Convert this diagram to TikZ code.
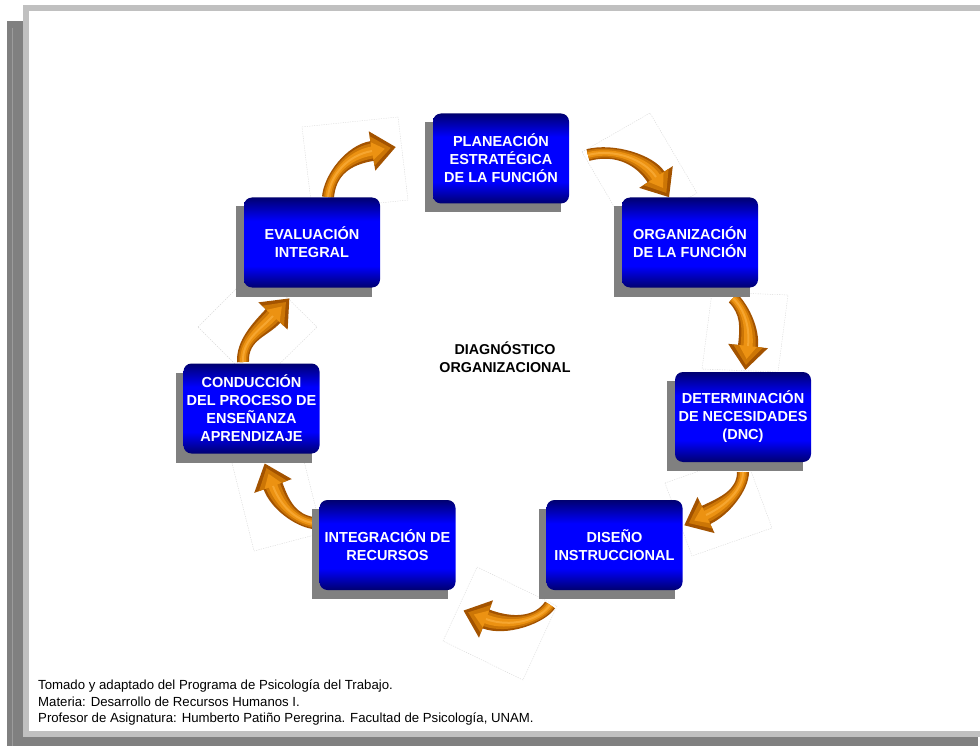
\documentclass[tikz,border=0pt]{standalone}
\usepackage{fontspec}
\setmainfont{Liberation Sans}
\usetikzlibrary{calc}

\definecolor{framegray}{HTML}{C0C0C0}
\definecolor{shadowgray}{HTML}{808080}
\definecolor{seamgray}{HTML}{9C9C9C}
\definecolor{boxnavy}{HTML}{000070}
\definecolor{boxblue}{HTML}{0000FF}
\definecolor{arrowdark}{HTML}{A35300}
\definecolor{arrowmid}{HTML}{CC7606}
\definecolor{arrowbright}{HTML}{EC9212}
\definecolor{arrowglow}{HTML}{F6A630}
\definecolor{papergray}{HTML}{D8D8D8}

% navy -> blue -> navy vertical fill of the stage boxes
\pgfdeclareverticalshading{stageshade}{100bp}{color(0bp)=(boxnavy); color(25bp)=(boxnavy);
  color(37bp)=(boxblue); color(62bp)=(boxblue); color(75bp)=(boxnavy); color(100bp)=(boxnavy)}

\tikzset{
  stage/.style={shape=rectangle, rounded corners=8pt, minimum width=136pt, minimum height=90pt,
    shading=stageshade, text=white, align=center, inner sep=0pt,
    font=\bfseries\fontsize{14.5}{18}\selectfont},
  centertext/.style={align=center, font=\bfseries\fontsize{14.3}{18.5}\selectfont},
  credits/.style={anchor=west, align=left, inner sep=0pt, font=\fontsize{13.2}{16.5}\selectfont},
  paper/.style={draw=papergray, fill=white, line width=0.4pt, dash pattern=on 1.2pt off 1.2pt},
}

% filled tapered curved arrow: style, start, control 1, control 2, head base,
% tail half width, base half width, head half width, head length
\newcommand\curvedarrow[9]{%
  \fill[#1] ($(#2)!#6!90:(#3)$) .. controls ($(#3)!#6!-90:(#2)$) and ($(#4)!#7!90:(#5)$) .. ($(#5)!#7!-90:(#4)$)
    -- ($(#5)!#8!-90:(#4)$) -- ($(#5)!-#9!(#4)$) -- ($(#5)!#8!90:(#4)$)
    -- ($(#5)!#7!90:(#4)$) .. controls ($(#4)!#7!-90:(#5)$) and ($(#3)!#6!90:(#2)$) .. ($(#2)!#6!-90:(#3)$) -- cycle;}

% glossy orange arrow built from nested layers
\newcommand\glossyarrow[4]{%
  \curvedarrow{arrowdark}{#1}{#2}{#3}{#4}{6pt}{10pt}{20pt}{24pt}
  \curvedarrow{arrowmid}{#1}{#2}{#3}{#4}{4.5pt}{7.5pt}{15pt}{19pt}
  \curvedarrow{arrowbright}{#1}{#2}{#3}{#4}{2.8pt}{4.5pt}{9pt}{13pt}
  \draw[arrowglow, line width=2pt] (#1) .. controls (#2) and (#3) .. (#4);}

\begin{document}
\begin{tikzpicture}[x=1pt, y=-1pt]
\useasboundingbox (0,0) rectangle (980,746);
\clip (0,0) rectangle (980,746);

% page frame with its drop shadow
\fill[white] (0,0) rectangle (980,746);
\fill[shadowgray] (7,21) rectangle (978,760);
\draw[seamgray, line width=0.8pt] (12,28) -- (12,760);
\fill[framegray] (23,5) rectangle (994,737);
\fill[white] (29,11) rectangle (988,731);

% stage positions
\coordinate (pPlan) at (501,158.5);
\coordinate (pOrg)  at (690,242.5);
\coordinate (pDet)  at (743,417);
\coordinate (pDis)  at (614.5,545);
\coordinate (pInt)  at (387.5,545);
\coordinate (pCon)  at (251.5,408.5);
\coordinate (pEva)  at (312,242.5);

% clip-art sheets behind the arrows
\draw[paper] (582,152) -- (650,113) -- (697,193) -- (629,232) -- cycle;
\draw[paper] (712,292) -- (788,295) -- (778,372) -- (702,369) -- cycle;
\draw[paper] (665,483) -- (745,455) -- (772,528) -- (692,556) -- cycle;
\draw[paper] (477,567) -- (557,606) -- (523,680) -- (443,641) -- cycle;
\draw[paper] (232,463) -- (300,445) -- (322,533) -- (254,551) -- cycle;
\draw[paper] (198,327) -- (257,268) -- (317,327) -- (257,386) -- cycle;
\draw[paper] (302,127) -- (398,117) -- (408,200) -- (312,210) -- cycle;

% cycle arrows
\glossyarrow{588,155}{615,148}{645,160}{656,177}
\glossyarrow{733,298}{745,310}{750,328}{748,346}
\glossyarrow{743,472}{743,490}{725,506}{706,515}
\glossyarrow{550,605}{540,620}{510,628}{486,619}
\glossyarrow{313,523}{295,520}{280,505}{273,486}
\glossyarrow{243,362}{242,340}{260,330}{273,316}
\glossyarrow{328,197}{330,175}{348,155}{372,151}

% box shadows
\foreach \p in {pPlan,pOrg,pDet,pDis,pInt,pCon,pEva}
  \fill[shadowgray] ($(\p)+(-76,-36)$) rectangle ($(\p)+(60,54)$);

% stages
\node[stage] (plan) at (pPlan) {PLANEACIÓN\\ESTRATÉGICA\\DE LA FUNCIÓN};
\node[stage] (org)  at (pOrg)  {ORGANIZACIÓN\\DE LA FUNCIÓN};
\node[stage] (det)  at (pDet)  {DETERMINACIÓN\\DE NECESIDADES\\(DNC)};
\node[stage] (dis)  at (pDis)  {DISEÑO\\INSTRUCCIONAL};
\node[stage] (int)  at (pInt)  {INTEGRACIÓN DE\\RECURSOS};
\node[stage] (con)  at (pCon)  {CONDUCCIÓN\\DEL PROCESO DE\\ENSEÑANZA\\APRENDIZAJE};
\node[stage] (eva)  at (pEva)  {EVALUACIÓN\\INTEGRAL};

\node[centertext] (diag) at (505,357) {DIAGNÓSTICO\\ORGANIZACIONAL};

\node[credits] (source) at (38,703) {Tomado y adaptado del Programa de Psicología del Trabajo.\\
Materia: Desarrollo de Recursos Humanos I.\\
Profesor de Asignatura: Humberto Patiño Peregrina. Facultad de Psicología, UNAM.};
\end{tikzpicture}
\end{document}
